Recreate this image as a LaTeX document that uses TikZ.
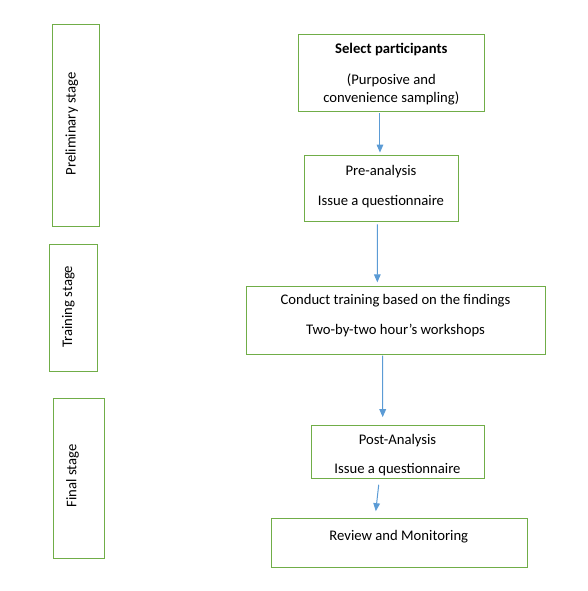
\documentclass[tikz,border=0pt]{standalone}
\usepackage{fontspec}
\setmainfont{Carlito}
\usetikzlibrary{arrows.meta}

\definecolor{boxgreen}{HTML}{70AD47}
\definecolor{arrowblue}{HTML}{5B9BD5}

\tikzstyle{stepbox} = [draw=boxgreen, line width=0.75pt, rectangle,
  inner sep=0pt]
\tikzstyle{stagebox} = [draw=boxgreen, line width=0.75pt, rectangle,
  inner sep=0pt]
\tikzstyle{steptext} = [align=center, inner sep=0pt,
  font=\fontsize{11}{13.2}\selectfont]
\tikzstyle{stagetext} = [rotate=90, inner sep=0pt,
  font=\fontsize{11}{13.2}\selectfont]
\tikzstyle{flow} = [draw=arrowblue, line width=0.75pt,
  -{Triangle[length=6pt,width=5pt]}]

\begin{document}
\begin{tikzpicture}[x=0.75pt, y=-0.75pt]
        \useasboundingbox (0,0) rectangle (587,591);

        % stages on the left
        \node [stagebox, minimum width=35pt,   minimum height=151.3pt] (prelim)   at (75.7,125.8) {};
        \node [stagebox, minimum width=35.8pt, minimum height=95.5pt]  (training) at (73.8,308.0) {};
        \node [stagebox, minimum width=38.3pt, minimum height=120pt]   (final)    at (78.8,478.3) {};
        \node [stagetext] (prelimtxt)   at (71.7,124.0) {Preliminary stage};
        \node [stagetext] (trainingtxt) at (68.3,306.7) {Training stage};
        \node [stagetext] (finaltxt)    at (72.5,476.0) {Final stage};

        % steps
        \node [stepbox, minimum width=139.5pt, minimum height=57.75pt] (select)  at (391.3,72.7)  {};
        \node [stepbox, minimum width=115.5pt, minimum height=49.5pt]  (pre)     at (381.3,189.0) {};
        \node [stepbox, minimum width=224pt,   minimum height=50.5pt]  (conduct) at (396.0,320.5) {};
        \node [stepbox, minimum width=130pt,   minimum height=40pt]    (post)    at (397.7,452.3) {};
        \node [stepbox, minimum width=192pt,   minimum height=36.75pt] (review)  at (399.7,542.8) {};

        \node [steptext] (selecttxt)  at (391.3,73.7)
          {\textbf{Select participants}\\[10.3pt](Purposive and\\convenience sampling)};
        \node [steptext] (pretxt)     at (381.0,186.5)
          {Pre-analysis\\[9.3pt]Issue a questionnaire};
        \node [steptext] (conducttxt) at (395.5,315.8)
          {Conduct training based on the findings\\[9.3pt]Two-by-two hour’s workshops};
        \node [steptext] (posttxt)    at (397.5,455.0)
          {Post-Analysis\\[8.8pt]Issue a questionnaire};
        \node [steptext] (reviewtxt)  at (398.8,536.5)
          {Review and Monitoring};

        \draw[flow, shorten <=1.3pt, shorten >=2.2pt] ([xshift=-8.5pt]select.south)  -- ([xshift=-1pt]pre.north);
        \draw[flow, shorten <=1.5pt, shorten >=3pt]   ([xshift=-3pt]pre.south)       -- ([xshift=-14pt]conduct.north);
        \draw[flow, shorten <=0.8pt, shorten >=6pt]   ([xshift=-10pt]conduct.south)  -- ([xshift=-11.25pt]post.north);
        \draw[flow, shorten <=4pt,   shorten >=5pt]   ([xshift=-13.8pt]post.south)   -- ([xshift=-18.5pt]review.north);
      \end{tikzpicture}
\end{document}
